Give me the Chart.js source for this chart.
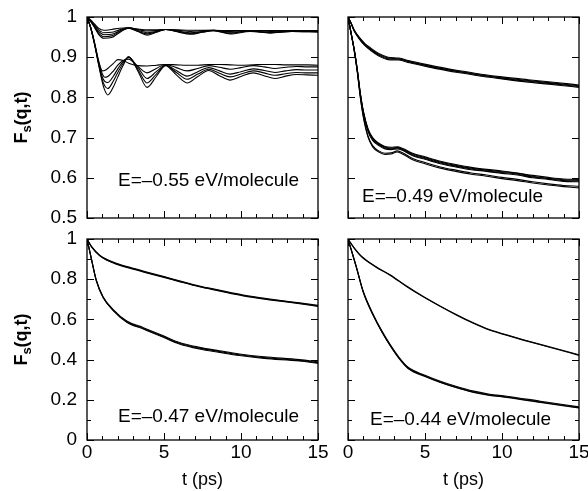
<!DOCTYPE html>
<html><head><meta charset="utf-8">
<script src="https://cdn.jsdelivr.net/npm/chart.js@4/dist/chart.umd.min.js"></script>
<style>
html,body{margin:0;padding:0;background:#fff;}
#wrap{position:relative;width:588px;height:491px;overflow:hidden;background:#fff;}
canvas{position:absolute;left:0;top:0;}
</style></head>
<body><div id="wrap">
<canvas id="c1" width="588" height="491"></canvas>
<canvas id="c2" width="588" height="491"></canvas>
<canvas id="c3" width="588" height="491"></canvas>
<canvas id="c4" width="588" height="491"></canvas>
</div>
<script>
// ---------- labels ----------
const panelLabels = ['E=\u20130.55 eV/molecule', 'E=\u20130.49 eV/molecule', 'E=\u20130.47 eV/molecule', 'E=\u20130.44 eV/molecule'];
const xTitle = 't (ps)';
const xTickValues = [0, 5, 10, 15];
const yTicksTop = [0.5, 0.6, 0.7, 0.8, 0.9, 1];
const yTicksBottom = [0, 0.2, 0.4, 0.6, 0.8, 1];

// ---------- panel 1 (E=-0.55) ----------
const tA_up = [0, 0.25, 0.5, 0.75, 1.1, 1.6, 2.1, 2.7, 3.3, 3.9, 4.5, 5.1, 5.9, 6.7, 7.5, 8.2, 9.3, 10.6, 11.9, 13.3, 15];
const a_up1 = [1, 0.992, 0.982, 0.972, 0.967, 0.969, 0.972, 0.973, 0.970, 0.968, 0.968, 0.969, 0.968, 0.967, 0.967, 0.967, 0.966, 0.966, 0.966, 0.966, 0.966];
const a_up2 = [1, 0.990, 0.979, 0.968, 0.961, 0.962, 0.968, 0.973, 0.969, 0.965, 0.966, 0.969, 0.967, 0.964, 0.966, 0.967, 0.964, 0.966, 0.964, 0.966, 0.965];
const a_up3 = [1, 0.990, 0.977, 0.964, 0.956, 0.957, 0.965, 0.973, 0.967, 0.961, 0.964, 0.969, 0.965, 0.961, 0.964, 0.967, 0.962, 0.965, 0.962, 0.965, 0.964];
const a_up4 = [1, 0.989, 0.975, 0.960, 0.951, 0.953, 0.963, 0.972, 0.965, 0.958, 0.963, 0.969, 0.964, 0.959, 0.963, 0.966, 0.960, 0.965, 0.961, 0.964, 0.963];
const a_up5 = [1, 0.988, 0.973, 0.957, 0.947, 0.949, 0.961, 0.972, 0.964, 0.955, 0.962, 0.969, 0.963, 0.957, 0.962, 0.966, 0.958, 0.964, 0.960, 0.964, 0.963];

const tA_lo = [0, 0.25, 0.5, 0.75, 1.0, 1.15, 1.35, 1.7, 2.0, 2.35, 2.7, 3.3, 3.9, 4.5, 5.1, 5.8, 6.5, 7.2, 7.9, 8.6, 9.3, 10.0, 10.8, 11.5, 12.2, 12.9, 13.6, 14.3, 15];
const a_lo1 = [1, 0.972, 0.935, 0.892, 0.866, 0.867, 0.872, 0.884, 0.894, 0.892, 0.885, 0.879, 0.878, 0.880, 0.882, 0.881, 0.880, 0.880, 0.882, 0.882, 0.881, 0.880, 0.881, 0.882, 0.882, 0.881, 0.881, 0.881, 0.880];
const a_lo2 = [1, 0.972, 0.933, 0.889, 0.858, 0.850, 0.852, 0.865, 0.880, 0.892, 0.895, 0.877, 0.861, 0.872, 0.882, 0.874, 0.866, 0.872, 0.879, 0.875, 0.870, 0.874, 0.879, 0.876, 0.872, 0.875, 0.877, 0.876, 0.876];
const a_lo3 = [1, 0.972, 0.932, 0.886, 0.850, 0.840, 0.837, 0.852, 0.871, 0.889, 0.899, 0.875, 0.847, 0.864, 0.880, 0.867, 0.853, 0.864, 0.874, 0.866, 0.858, 0.864, 0.871, 0.867, 0.862, 0.866, 0.869, 0.868, 0.868];
const a_lo4 = [1, 0.972, 0.931, 0.884, 0.843, 0.829, 0.822, 0.840, 0.862, 0.885, 0.901, 0.870, 0.836, 0.858, 0.880, 0.862, 0.845, 0.858, 0.870, 0.860, 0.851, 0.858, 0.866, 0.861, 0.855, 0.859, 0.862, 0.861, 0.861];
const a_lo5 = [1, 0.972, 0.930, 0.882, 0.837, 0.818, 0.806, 0.825, 0.851, 0.880, 0.901, 0.866, 0.825, 0.852, 0.879, 0.856, 0.836, 0.852, 0.867, 0.854, 0.843, 0.852, 0.861, 0.854, 0.847, 0.853, 0.857, 0.856, 0.855];

// ---------- panel 2 (E=-0.49) ----------
const tB_up = [0, 0.2, 0.4, 0.7, 1.1, 1.5, 2.0, 2.6, 3.3, 4.0, 5.2, 6.5, 7.5, 8.8, 10, 11.7, 13.5, 15];
const b_up1 = [1, 0.985, 0.968, 0.951, 0.934, 0.922, 0.909, 0.900, 0.898, 0.891, 0.881, 0.871, 0.865, 0.857, 0.851, 0.844, 0.837, 0.831];
const b_up2 = [1, 0.985, 0.967, 0.950, 0.932, 0.920, 0.907, 0.898, 0.896, 0.889, 0.879, 0.869, 0.863, 0.855, 0.849, 0.842, 0.835, 0.829];
const b_up3 = [1, 0.984, 0.966, 0.948, 0.930, 0.918, 0.905, 0.896, 0.895, 0.888, 0.878, 0.868, 0.862, 0.854, 0.848, 0.840, 0.833, 0.827];
const b_up4 = [1, 0.984, 0.965, 0.947, 0.929, 0.916, 0.903, 0.894, 0.893, 0.886, 0.876, 0.866, 0.860, 0.852, 0.846, 0.838, 0.831, 0.825];

const tB_lo = [0, 0.2, 0.4, 0.6, 0.8, 1.0, 1.3, 1.6, 2.0, 2.4, 2.8, 3.2, 3.6, 4.2, 5.0, 6.0, 7.0, 8.0, 9.0, 10.0, 11.0, 12.0, 13.0, 14.0, 15];
const b_lo1 = [1, 0.96, 0.920, 0.870, 0.810, 0.765, 0.722, 0.700, 0.686, 0.678, 0.676, 0.677, 0.672, 0.661, 0.652, 0.641, 0.633, 0.626, 0.621, 0.617, 0.612, 0.606, 0.601, 0.597, 0.596];
const b_lo2 = [1, 0.96, 0.920, 0.870, 0.810, 0.764, 0.720, 0.698, 0.684, 0.676, 0.674, 0.675, 0.670, 0.659, 0.650, 0.639, 0.631, 0.624, 0.619, 0.615, 0.611, 0.604, 0.599, 0.595, 0.594];
const b_lo3 = [1, 0.96, 0.920, 0.869, 0.808, 0.762, 0.718, 0.696, 0.682, 0.674, 0.672, 0.674, 0.669, 0.657, 0.648, 0.637, 0.629, 0.622, 0.617, 0.613, 0.609, 0.602, 0.598, 0.593, 0.592];
const b_lo4 = [1, 0.96, 0.919, 0.868, 0.807, 0.760, 0.715, 0.693, 0.680, 0.672, 0.670, 0.672, 0.667, 0.655, 0.646, 0.635, 0.627, 0.620, 0.616, 0.611, 0.607, 0.600, 0.596, 0.591, 0.590];
const b_lo5 = [1, 0.96, 0.918, 0.865, 0.802, 0.752, 0.704, 0.680, 0.667, 0.661, 0.662, 0.667, 0.661, 0.648, 0.638, 0.627, 0.619, 0.612, 0.607, 0.601, 0.596, 0.590, 0.585, 0.581, 0.579];
const b_lo6 = [1, 0.96, 0.917, 0.864, 0.800, 0.750, 0.701, 0.677, 0.664, 0.658, 0.659, 0.664, 0.658, 0.645, 0.635, 0.624, 0.616, 0.609, 0.604, 0.598, 0.593, 0.587, 0.582, 0.578, 0.575];

// ---------- panel 3 (E=-0.47) ----------
const tC_up = [0, 0.3, 0.82, 1.3, 1.9, 3, 4, 5, 6, 7.3, 8.5, 10.15, 12, 13.8, 15];
const c_up1 = [1, 0.962, 0.920, 0.898, 0.879, 0.854, 0.833, 0.813, 0.792, 0.766, 0.747, 0.721, 0.700, 0.682, 0.670];
const c_up2 = [1, 0.961, 0.918, 0.896, 0.877, 0.852, 0.831, 0.811, 0.790, 0.764, 0.745, 0.719, 0.698, 0.680, 0.667];
const c_up3 = [1, 0.960, 0.917, 0.894, 0.875, 0.850, 0.829, 0.809, 0.788, 0.762, 0.743, 0.717, 0.696, 0.678, 0.665];

const tC_lo = [0, 0.28, 0.6, 1.04, 1.7, 2.58, 3.66, 4.96, 6.0, 7.3, 8.6, 9.9, 11.5, 13.8, 15];
const c_lo1 = [1, 0.904, 0.796, 0.713, 0.649, 0.592, 0.559, 0.518, 0.485, 0.461, 0.444, 0.428, 0.414, 0.400, 0.389];
const c_lo2 = [1, 0.903, 0.795, 0.711, 0.646, 0.589, 0.555, 0.514, 0.481, 0.457, 0.440, 0.424, 0.410, 0.396, 0.385];
const c_lo3 = [1, 0.902, 0.793, 0.709, 0.644, 0.586, 0.552, 0.511, 0.478, 0.453, 0.436, 0.420, 0.406, 0.393, 0.381];

// ---------- panel 4 (E=-0.44) ----------
const tD_up = [0, 0.4, 0.89, 1.8, 2.73, 3.8, 4.89, 6, 7.06, 8.1, 9.22, 10.3, 11.38, 13.2, 15];
const d_up1 = [1, 0.956, 0.913, 0.863, 0.822, 0.766, 0.714, 0.666, 0.623, 0.584, 0.548, 0.523, 0.499, 0.461, 0.424];
const d_up2 = [1, 0.955, 0.911, 0.861, 0.820, 0.764, 0.712, 0.664, 0.621, 0.582, 0.546, 0.521, 0.497, 0.459, 0.421];

const tD_lo = [0, 0.2, 0.55, 0.99, 1.64, 2.2, 2.73, 3.3, 3.9, 5, 6, 7, 8.16, 9.2, 10.3, 12.5, 15];
const d_lo1 = [1, 0.950, 0.860, 0.740, 0.625, 0.543, 0.476, 0.413, 0.362, 0.322, 0.292, 0.267, 0.243, 0.228, 0.218, 0.193, 0.165];
const d_lo2 = [1, 0.949, 0.858, 0.737, 0.621, 0.539, 0.472, 0.409, 0.358, 0.318, 0.288, 0.263, 0.239, 0.224, 0.214, 0.189, 0.161];
const d_lo3 = [1, 0.948, 0.857, 0.735, 0.619, 0.537, 0.470, 0.407, 0.356, 0.316, 0.286, 0.261, 0.237, 0.222, 0.212, 0.187, 0.159];

// ---------- helpers ----------
const FONT = '"Liberation Sans", Arial, Helvetica, sans-serif';
Chart.defaults.font.family = FONT;
Chart.defaults.color = '#000';

function series(t, F) {
  return {
    data: t.map((x, i) => ({x: x, y: F[i]})),
    borderColor: '#000', borderWidth: 1.1, pointRadius: 0,
    fill: false, cubicInterpolationMode: 'monotone'
  };
}

const framePlugin = {
  id: 'frame',
  afterDatasetsDraw(chart, args, o) {
    const {ctx, chartArea: a, scales: {x, y}} = chart;
    ctx.save();
    ctx.strokeStyle = '#000';
    ctx.lineWidth = 1;
    ctx.beginPath();
    for (let k = 0; k <= Math.round((x.max - x.min) / o.xMinor); k++) {
      const v = x.min + k * o.xMinor;
      const px = Math.round(x.getPixelForValue(v)) + 0.5;
      const r = v / o.xMajor, major = Math.abs(r - Math.round(r)) < 1e-6;
      const L = major ? 7 : 4;
      ctx.moveTo(px, a.bottom); ctx.lineTo(px, a.bottom - L);
      ctx.moveTo(px, a.top); ctx.lineTo(px, a.top + L);
    }
    for (let k = 0; k <= Math.round((y.max - y.min) / o.yMinor); k++) {
      const v = y.min + k * o.yMinor;
      const py = Math.round(y.getPixelForValue(v)) + 0.5;
      const r = (v - y.min) / o.yMajor, major = Math.abs(r - Math.round(r)) < 1e-6;
      const L = major ? 7 : 4;
      ctx.moveTo(a.left, py); ctx.lineTo(a.left + L, py);
      ctx.moveTo(a.right, py); ctx.lineTo(a.right - L, py);
    }
    ctx.stroke();
    ctx.lineWidth = 1.3;
    ctx.strokeRect(a.left, a.top, a.right - a.left, a.bottom - a.top);

    ctx.fillStyle = '#000';
    ctx.font = '19px ' + FONT;
    ctx.textAlign = 'left';
    ctx.textBaseline = 'alphabetic';
    ctx.fillText(o.label, a.left + o.labelDx, a.top + o.labelDy);

    if (o.showXTitle) {
      ctx.font = '18px ' + FONT;
      ctx.textAlign = 'center';
      ctx.fillText(xTitle, (a.left + a.right) / 2, a.bottom + 45);
    }
    if (o.showYTitle) {
      ctx.translate(27, (a.top + a.bottom) / 2);
      ctx.rotate(-Math.PI / 2);
      const fBig = 'bold 18px ' + FONT, fSub = 'bold 13px ' + FONT;
      ctx.font = fBig; const w1 = ctx.measureText('F').width, w3 = ctx.measureText('(q,t)').width;
      ctx.font = fSub; const w2 = ctx.measureText('s').width;
      let sx = -(w1 + w2 + w3) / 2;
      ctx.textAlign = 'left';
      ctx.font = fBig; ctx.fillText('F', sx, 0); sx += w1;
      ctx.font = fSub; ctx.fillText('s', sx, 4); sx += w2;
      ctx.font = fBig; ctx.fillText('(q,t)', sx, 0);
    }
    ctx.restore();
  }
};

function makePanel(id, datasets, box, cfg) {
  const Y_W = 40, X_H = 50;
  const fmt = v => String(Math.round(v * 10) / 10);
  new Chart(document.getElementById(id), {
    type: 'line',
    data: {datasets: datasets},
    plugins: [framePlugin],
    options: {
      responsive: false, animation: false, events: [],
      layout: {padding: {left: box.L - Y_W, right: 588 - box.R, top: box.T, bottom: 491 - box.B - X_H}},
      plugins: {legend: {display: false}, tooltip: {enabled: false},
        frame: {label: cfg.label, labelDx: cfg.dx, labelDy: cfg.dy, showXTitle: cfg.xLab, showYTitle: cfg.yLab,
                xMinor: 1, xMajor: 5, yMinor: cfg.yMinor, yMajor: cfg.yStep}},
      scales: {
        x: {type: 'linear', min: 0, max: 15,
            grid: {display: false, drawTicks: false}, border: {display: false},
            afterBuildTicks: s => { s.ticks = xTickValues.map(v => ({value: v})); },
            ticks: {display: cfg.xLab, padding: 1, font: {size: 19}, color: '#000', callback: v => String(v)},
            afterFit: s => { s.height = X_H; s.paddingLeft = 0; s.paddingRight = 0; }},
        y: {type: 'linear', min: cfg.yMin, max: 1,
            grid: {display: false, drawTicks: false}, border: {display: false},
            afterBuildTicks: s => { s.ticks = cfg.yTicks.map(v => ({value: v})); },
            ticks: {display: cfg.yLab, padding: 10, font: {size: 19}, color: '#000', callback: fmt},
            afterFit: s => { s.width = Y_W; s.paddingTop = 0; s.paddingBottom = 0; }}
      }
    }
  });
}

makePanel('c1',
  [series(tA_up, a_up1), series(tA_up, a_up2), series(tA_up, a_up3), series(tA_up, a_up4), series(tA_up, a_up5),
   series(tA_lo, a_lo1), series(tA_lo, a_lo2), series(tA_lo, a_lo3), series(tA_lo, a_lo4), series(tA_lo, a_lo5)],
  {L: 87, R: 318, T: 17, B: 218},
  {label: panelLabels[0], dx: 31, dy: 169, xLab: false, yLab: true, yMin: 0.5, yStep: 0.1, yMinor: 0.1, yTicks: yTicksTop});

makePanel('c2',
  [series(tB_up, b_up1), series(tB_up, b_up2), series(tB_up, b_up3), series(tB_up, b_up4),
   series(tB_lo, b_lo1), series(tB_lo, b_lo2), series(tB_lo, b_lo3), series(tB_lo, b_lo4), series(tB_lo, b_lo5), series(tB_lo, b_lo6)],
  {L: 348, R: 579, T: 17, B: 218},
  {label: panelLabels[1], dx: 14, dy: 185, xLab: false, yLab: false, yMin: 0.5, yStep: 0.1, yMinor: 0.1, yTicks: yTicksTop});

makePanel('c3',
  [series(tC_up, c_up1), series(tC_up, c_up2), series(tC_up, c_up3),
   series(tC_lo, c_lo1), series(tC_lo, c_lo2), series(tC_lo, c_lo3)],
  {L: 87, R: 318, T: 239, B: 440},
  {label: panelLabels[2], dx: 31, dy: 183, xLab: true, yLab: true, yMin: 0, yStep: 0.2, yMinor: 0.1, yTicks: yTicksBottom});

makePanel('c4',
  [series(tD_up, d_up1), series(tD_up, d_up2),
   series(tD_lo, d_lo1), series(tD_lo, d_lo2), series(tD_lo, d_lo3)],
  {L: 348, R: 579, T: 239, B: 440},
  {label: panelLabels[3], dx: 22, dy: 186, xLab: true, yLab: false, yMin: 0, yStep: 0.2, yMinor: 0.1, yTicks: yTicksBottom});
</script>
</body></html>
